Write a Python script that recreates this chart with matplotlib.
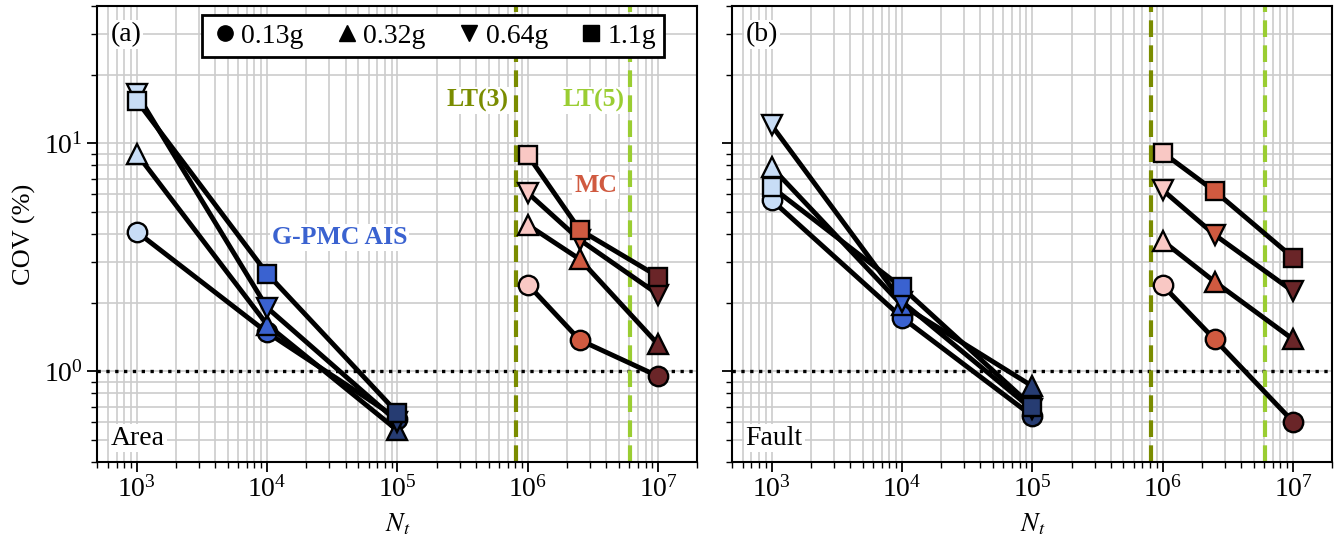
import matplotlib
matplotlib.use('Agg')
import matplotlib.pyplot as plt
import numpy as np

plt.rcParams['font.family'] = ['Liberation Serif', 'DejaVu Serif']
plt.rcParams['mathtext.fontset'] = 'stix'

# sample sizes
nt_ais = [1e3, 1e4, 1e5]
nt_mc = [1e6, 2.5e6, 1e7]
lt3 = 8.1e5
lt5 = 6.1e6

labels = ['0.13g', '0.32g', '0.64g', '1.1g']
markers = ['o', '^', 'v', 's']

# COV (%) - Area
area_ais = [[4.09, 1.48, 0.62],
            [9.0, 1.60, 0.55],
            [16.5, 1.90, 0.60],
            [15.4, 2.68, 0.656]]
area_mc = [[2.40, 1.37, 0.95],
           [4.38, 3.10, 1.31],
           [6.05, 3.77, 2.17],
           [8.86, 4.17, 2.60]]

# COV (%) - Fault
fault_ais = [[5.64, 1.72, 0.636],
             [7.86, 1.95, 0.86],
             [12.0, 2.02, 0.68],
             [6.43, 2.33, 0.70]]
fault_mc = [[2.38, 1.38, 0.60],
            [3.73, 2.47, 1.38],
            [6.23, 3.97, 2.24],
            [9.1, 6.17, 3.15]]

blues = ['#c8ddf6', '#3a62d0', '#263c72']
reds = ['#f9c8c4', '#d05a40', '#6a2528']


def draw(ax, ais, mc):
    for k in range(4):
        for xs, ys, cols in [(nt_ais, ais[k], blues), (nt_mc, mc[k], reds)]:
            ax.plot(xs, ys, '-', color='k', lw=3.5, zorder=3)
            for x, y, c in zip(xs, ys, cols):
                ax.plot(x, y, markers[k], ms=14 if markers[k] != 's' else 12.5,
                        mfc=c, mec='k', mew=1.7, zorder=3)
    ax.axhline(1.0, color='k', ls=':', lw=2.4, zorder=2)
    ax.axvline(lt3, color='#7a8c00', ls='--', lw=3, zorder=2, dashes=(4, 2))
    ax.axvline(lt5, color='#9acd32', ls='--', lw=3, zorder=2, dashes=(4, 2))
    ax.set_xscale('log')
    ax.set_yscale('log')
    ax.set_xlim(5e2, 2e7)
    ax.set_ylim(0.4, 40)
    ax.grid(True, which='both', color='#cccccc', lw=1.2, zorder=0)
    ax.set_axisbelow(True)
    ax.tick_params(which='major', length=7, width=1.3, labelsize=20, direction='out')
    ax.tick_params(which='minor', length=4, width=1.0, direction='out')
    for s in ax.spines.values():
        s.set_linewidth(1.5)
    ax.set_xlabel('$N_t$', fontsize=19, labelpad=6)


fig, (ax1, ax2) = plt.subplots(1, 2, figsize=(13.35, 5.46), dpi=100, sharey=True)
fig.subplots_adjust(left=0.073, right=0.998, top=0.989, bottom=0.154, wspace=0.058)

draw(ax1, area_ais, area_mc)
draw(ax2, fault_ais, fault_mc)
ax1.set_ylabel('COV (%)', fontsize=19, labelpad=6)
ax2.tick_params(labelleft=False)

box = dict(facecolor='white', edgecolor='none', pad=1.5)
ax1.text(0.022, 0.965, '(a)', transform=ax1.transAxes, fontsize=20, va='top', bbox=box, zorder=5)
ax2.text(0.022, 0.965, '(b)', transform=ax2.transAxes, fontsize=20, va='top', bbox=box, zorder=5)
ax1.text(0.022, 0.025, 'Area', transform=ax1.transAxes, fontsize=20, va='bottom', bbox=box, zorder=5)
ax2.text(0.022, 0.025, 'Fault', transform=ax2.transAxes, fontsize=20, va='bottom', bbox=box, zorder=5)

ax1.text(3.6e4, 3.85, 'G-PMC AIS', color='#3a62d0', fontsize=18.5, fontweight='bold',
         ha='center', va='center', bbox=box, zorder=5)
ax1.text(3.3e6, 6.55, 'MC', color='#d05a40', fontsize=18.5, fontweight='bold',
         ha='center', va='center', bbox=box, zorder=5)
ax1.text(4.1e5, 15.4, 'LT(3)', color='#7a8c00', fontsize=18.5, fontweight='bold',
         ha='center', va='center', bbox=box, zorder=5)
ax1.text(3.2e6, 15.4, 'LT(5)', color='#9acd32', fontsize=18.5, fontweight='bold',
         ha='center', va='center', bbox=box, zorder=5)

handles = [plt.Line2D([], [], ls='none', marker=m, color='k', ms=11) for m in markers]
leg = ax1.legend(handles, labels, loc='upper center', bbox_to_anchor=(0.56, 0.993),
                 ncol=4, fontsize=20, frameon=True, fancybox=False, framealpha=1,
                 edgecolor='k', handletextpad=0.1, columnspacing=1.05, borderpad=0.3,
                 handlelength=1.0, borderaxespad=0.2)
leg.get_frame().set_linewidth(2)
leg.set_zorder(6)

fig.savefig('out.png', dpi=100)
